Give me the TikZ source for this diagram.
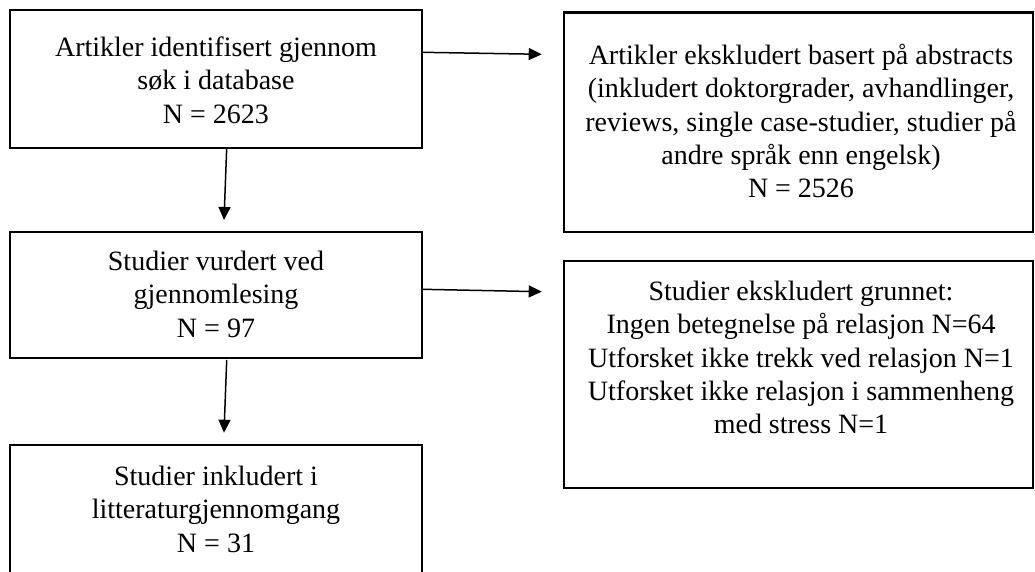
\documentclass[tikz,border=0pt]{standalone}
\usepackage{fontspec}
\setmainfont{Liberation Serif}
\usetikzlibrary{arrows.meta}
\begin{document}
\begin{tikzpicture}[x=1pt,y=1pt,
  box/.style={draw, line width=2.2pt, inner sep=0pt, outer sep=0pt},
  txt/.style={align=center, inner sep=0pt, anchor=north, font=\fontsize{28}{33.3}\selectfont},
  arr/.style={line width=1.5pt, -{Triangle[length=13pt,width=12pt]}}]
\useasboundingbox (0,0) rectangle (1035,-572);
% boxes
\node[box, minimum width=412pt, minimum height=138pt] (b1) at (216,-79) {};
\node[box, minimum width=469pt, minimum height=219.5pt] (b2) at (798.5,-122.25) {};
\node[box, minimum width=412pt, minimum height=126pt] (b3) at (216,-295) {};
\node[box, minimum width=469pt, minimum height=227pt] (b4) at (798.5,-374.5) {};
\node[box, minimum width=412pt, minimum height=175pt] (b5) at (216,-532.5) {};
% texts
\node[txt] (t1) at (216,-36.7) {Artikler identifisert gjennom\\søk i database\\N = 2623};
\node[txt] (t2) at (801,-44) {Artikler ekskludert basert på abstracts\\(inkludert doktorgrader, avhandlinger,\\reviews, single case-studier, studier på\\andre språk enn engelsk)\\N = 2526};
\node[txt] (t3) at (216,-251) {Studier vurdert ved\\gjennomlesing\\N = 97};
\node[txt] (t4) at (801,-281) {Studier ekskludert grunnet:\\Ingen betegnelse på relasjon N=64\\Utforsket ikke trekk ved relasjon N=1\\Utforsket ikke relasjon i sammenheng\\med stress N=1};
\node[txt] (t5) at (216,-466) {Studier inkludert i\\litteraturgjennomgang\\N = 31};
% arrow tips
\coordinate (a1t) at (541.7,-54.3);
\coordinate (a2t) at (541.7,-291.7);
\coordinate (d1t) at (224,-220);
\coordinate (d2t) at (224,-432.7);
% connectors
\draw[arr] ([yshift=26.7pt]b1.east) -- (a1t);
\draw[arr] ([yshift=5.7pt]b3.east) -- (a2t);
\draw[arr] ([xshift=10.7pt]b1.south) -- (d1t);
\draw[arr] ([xshift=10.7pt,yshift=-2pt]b3.south) -- (d2t);
\end{tikzpicture}
\end{document}
